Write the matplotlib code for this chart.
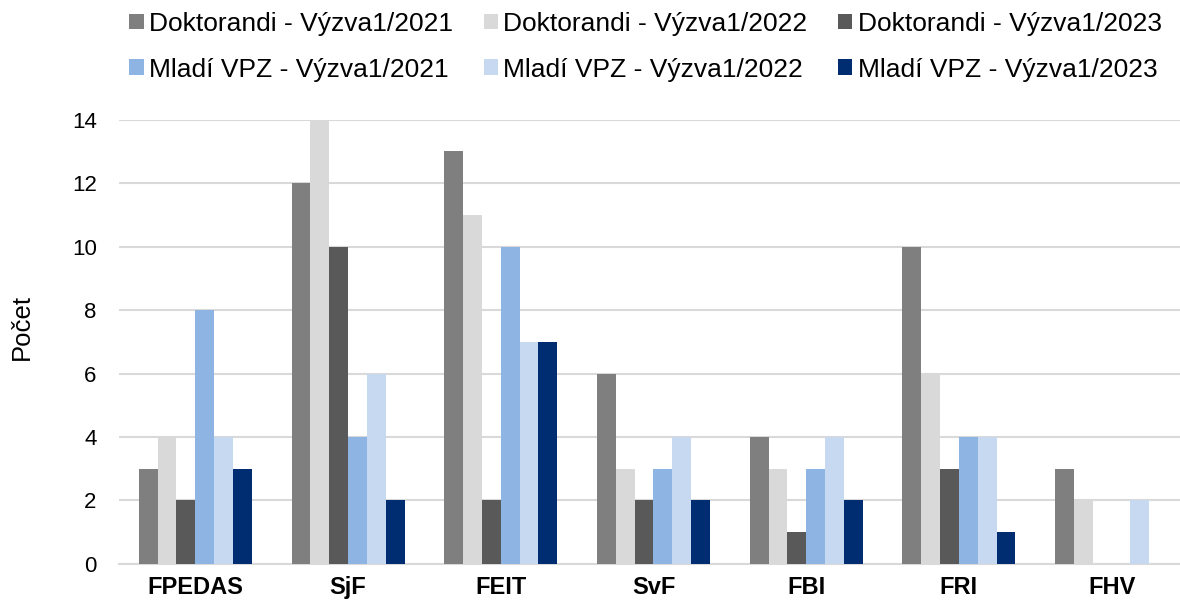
import numpy as np
import matplotlib.pyplot as plt
import matplotlib as mpl

mpl.rcParams.update({
    "font.family": ["Liberation Sans", "DejaVu Sans"],
})

# -------------------------
# Data
# -------------------------

faculties = ['FPEDAS', 'SjF', 'FEIT', 'SvF', 'FBI', 'FRI', 'FHV']

dokt_2021 = [3, 12, 13, 6, 4, 10, 3]
dokt_2022 = [4, 14, 11, 3, 3, 6, 2]
dokt_2023 = [2, 10, 2, 2, 1, 3, 0]
mladi_2021 = [8, 4, 10, 3, 3, 4, 0]
mladi_2022 = [4, 6, 7, 4, 4, 4, 2]
mladi_2023 = [3, 2, 7, 2, 2, 1, 0]

series = [
    ('Doktorandi - Výzva1/2021', dokt_2021, '#7F7F7F'),
    ('Doktorandi - Výzva1/2022', dokt_2022, '#D9D9D9'),
    ('Doktorandi - Výzva1/2023', dokt_2023, '#595959'),
    ('Mladí VPZ - Výzva1/2021', mladi_2021, '#8EB4E3'),
    ('Mladí VPZ - Výzva1/2022', mladi_2022, '#C6D9F1'),
    ('Mladí VPZ - Výzva1/2023', mladi_2023, '#002D72'),
]

# -------------------------
# Plot
# -------------------------

fig = plt.figure(figsize=(11.8, 6.03), dpi=100)
# the plot area runs past the right edge (cropped, like the original)
ax = fig.add_axes([0.1008, 0.0647, 0.906, 0.737])

n = len(series)
bar_width = 0.74 / n
x = np.arange(len(faculties))
offsets = (np.arange(n) - (n - 1) / 2) * bar_width

handles = []
for i, (label, vals, color) in enumerate(series):
    h = ax.bar(x + offsets[i], vals, bar_width, color=color, label=label, zorder=3)
    handles.append(h)

ax.set_xlim(-0.5, len(faculties) - 0.5)
ax.set_ylim(0, 14)
ax.set_yticks(np.arange(0, 15, 2))
ax.set_xticks(x)
ax.set_xticklabels(faculties, fontsize=17, fontweight='bold')
ax.tick_params(axis='y', labelsize=16, length=0, pad=16)
ax.tick_params(axis='x', length=0, pad=9)
fig.text(22 / 1180, 0.457, "Počet", fontsize=18.5, rotation=90,
         ha='center', va='center')

ax.grid(axis='y', color='#D9D9D9', linewidth=1.5, zorder=0)
for s in ['top', 'right', 'left']:
    ax.spines[s].set_visible(False)
ax.spines['bottom'].set_color('#D9D9D9')
ax.spines['bottom'].set_linewidth(1.5)

# legend is filled column-wise, so reorder to get row-wise layout
order = [0, 3, 1, 4, 2, 5]
fig.legend(
    [handles[i] for i in order],
    [series[i][0] for i in order],
    loc='upper center',
    bbox_to_anchor=(0.547, 1.0),
    borderaxespad=0,
    borderpad=0.45,
    ncol=3,
    frameon=False,
    fontsize=19,
    handlelength=0.55,
    handleheight=0.55,
    handletextpad=0.2,
    columnspacing=1.15,
    labelspacing=0.83,
)

plt.savefig("out.png", dpi=100)
